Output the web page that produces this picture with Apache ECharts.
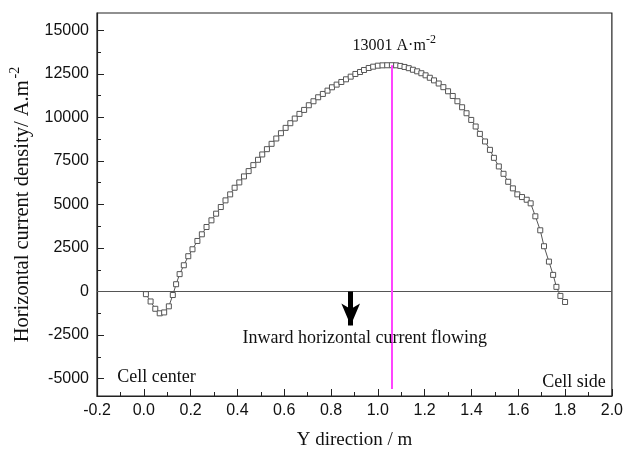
<!DOCTYPE html>
<html>
<head>
<meta charset="utf-8">
<script src="https://cdn.jsdelivr.net/npm/echarts@6/dist/echarts.min.js"></script>
<style>html,body{margin:0;padding:0;background:#fff}#c{width:626px;height:463px}</style>
</head>
<body>
<div id="c"></div>
<script>
// Y direction (m)
const xs = [0.009,0.029,0.049,0.068,0.087,0.107,0.124,0.138,0.153,0.171,0.19,
0.208,0.229,0.248,0.268,0.289,0.309,0.329,0.349,0.369,0.388,0.408,0.428,0.448,0.468,0.488,0.506,0.526,0.546,0.566,0.586,0.606,0.626,0.645,0.665,0.685,0.705,0.725,0.745,0.765,0.785,0.804,0.824,0.844,0.864,0.884,0.904,0.924,0.941,0.961,0.98,1.0,1.02,1.04,1.06,
1.078,1.096,1.114,1.132,1.15,1.168,1.186,1.204,1.222,1.24,1.26,1.28,1.30,1.32,1.34,1.36,1.379,1.399,1.418,1.436,1.458,1.479,1.496,1.517,1.537,1.557,1.577,1.596,1.616,1.636,1.653,1.673,1.694,1.71,1.731,1.749,1.763,1.78,1.80];
// Horizontal current density (A/m2)
const ys = [-150,-570,-990,-1250,-1200,-850,-200,420,1000,1510,2030,
2428,2906,3288,3708,4091,4473,4855,5237,5581,5963,6269,6613,6918,7262,7568,7874,8179,8485,8791,9096,9402,9669,9937,10204,10433,10701,10930,11159,11350,11541,11733,11886,12038,12191,12344,12497,12611,12726,12841,12917,12974,12993,12998,13001,
12996,12960,12900,12830,12740,12650,12540,12420,12280,12130,11950,11740,11504,11234,10930,10586,10242,9858,9480,9056,8620,8139,7680,7187,6763,6305,5927,5583,5428,5273,5067,4322,3519,2602,1720,957,269,-250,-600];

const peakX = 1.06, peakY = 13001;
const yMajorTicks = [-5000,-2500,0,2500,5000,7500,10000,12500,15000];
const yMinorTicks = [-3750,-1250,1250,3750,6250,8750,11250,13750];
const xLabelFmt = v => v.toFixed(1);
const yLabelFmt = v => String(v);

const chart = echarts.init(document.getElementById('c'), null, {renderer:'canvas'});
const axisColor = '#222';
const sansFont = '"Liberation Sans", Arial, sans-serif';
const serifFont = '"Liberation Serif", "Times New Roman", serif';

chart.setOption({
  animation: false,
  backgroundColor: '#fff',
  grid: {left: 97, right: 12, top: 13, bottom: 67, show: true, borderColor: axisColor, borderWidth: 1.2},
  xAxis: {
    type: 'value', min: -0.2, max: 2.0, interval: 0.2,
    name: 'Y direction / m', nameLocation: 'middle', nameGap: 35,
    nameTextStyle: {fontFamily: serifFont, fontSize: 19, color: '#111'},
    axisLine: {onZero: false, lineStyle: {color: axisColor, width: 1.2}},
    axisTick: {inside: true, length: 7, lineStyle: {color: axisColor}},
    minorTick: {show: true, splitNumber: 2, length: 4, lineStyle: {color: axisColor}},
    splitLine: {show: false},
    axisLabel: {formatter: xLabelFmt, fontFamily: sansFont, fontSize: 16, color: '#111', margin: 7}
  },
  yAxis: [{
    type: 'value', min: -6000, max: 16000,
    name: 'Horizontal current density/ A.m{sup|-2}', nameLocation: 'middle', nameGap: 53,
    nameTextStyle: {fontFamily: serifFont, fontSize: 20.5, color: '#111',
      rich: {sup: {fontFamily: serifFont, fontSize: 14, color: '#111', padding: [0,0,16,2]}}},
    axisLine: {onZero: false, lineStyle: {color: axisColor, width: 1.2}},
    axisTick: {inside: true, length: 7, customValues: yMajorTicks, lineStyle: {color: axisColor}},
    axisLabel: {customValues: yMajorTicks, formatter: yLabelFmt, fontFamily: sansFont, fontSize: 16, color: '#111', margin: 8},
    splitLine: {show: false}
  }, {
    type: 'value', min: -6000, max: 16000, position: 'left', offset: 0,
    axisLine: {show: false, onZero: false},
    axisTick: {inside: true, length: 4, customValues: yMinorTicks, lineStyle: {color: axisColor}},
    axisLabel: {show: false},
    splitLine: {show: false}
  }],
  series: [
    {
      type: 'line', data: xs.map((x, i) => [x, ys[i]]),
      symbol: 'rect', symbolSize: 5, showAllSymbol: true,
      lineStyle: {color: '#555', width: 1},
      itemStyle: {color: '#fff', borderColor: '#555', borderWidth: 1},
      silent: true, z: 3
    },
    {
      type: 'line', data: [], silent: true,
      markLine: {silent: true, symbol: 'none', label: {show: false},
        lineStyle: {color: '#555', width: 1.2, type: 'solid'},
        data: [{yAxis: 0}]}
    },
    {
      type: 'line', data: [], silent: true, z: 4,
      markLine: {silent: true, symbol: 'none', label: {show: false},
        lineStyle: {color: '#ff44ff', width: 2, type: 'solid'},
        data: [[{coord: [peakX, peakY]}, {coord: [peakX, -5600]}]]}
    },
    {
      type: 'line', data: [], silent: true, z: 5,
      markLine: {silent: true, symbol: ['none', 'arrow'], symbolSize: [14, 22], label: {show: false},
        lineStyle: {color: '#000', width: 5, type: 'solid'},
        data: [[{coord: [0.884, 0]}, {coord: [0.884, -1950]}]]}
    },
    {
      type: 'line', data: [], silent: true, z: 6,
      markPoint: {silent: true, symbol: 'circle', symbolSize: 0,
        label: {show: true, position: 'inside', color: '#111', fontFamily: serifFont, fontSize: 18,
          rich: {sup: {fontFamily: serifFont, fontSize: 12, color: '#111', padding: [0,0,12,0]}}},
        data: [
          {coord: [1.07, 14100], label: {formatter: '13001 A·m{sup|-2}', fontSize: 16}},
          {coord: [0.944, -2711], label: {formatter: 'Inward horizontal current flowing'}},
          {coord: [-0.113, -4946], label: {formatter: 'Cell center', position: 'right', distance: 0}},
          {coord: [1.974, -5233], label: {formatter: 'Cell side', position: 'left', distance: 0}}
        ]}
    }
  ]
});
</script>
</body>
</html>
